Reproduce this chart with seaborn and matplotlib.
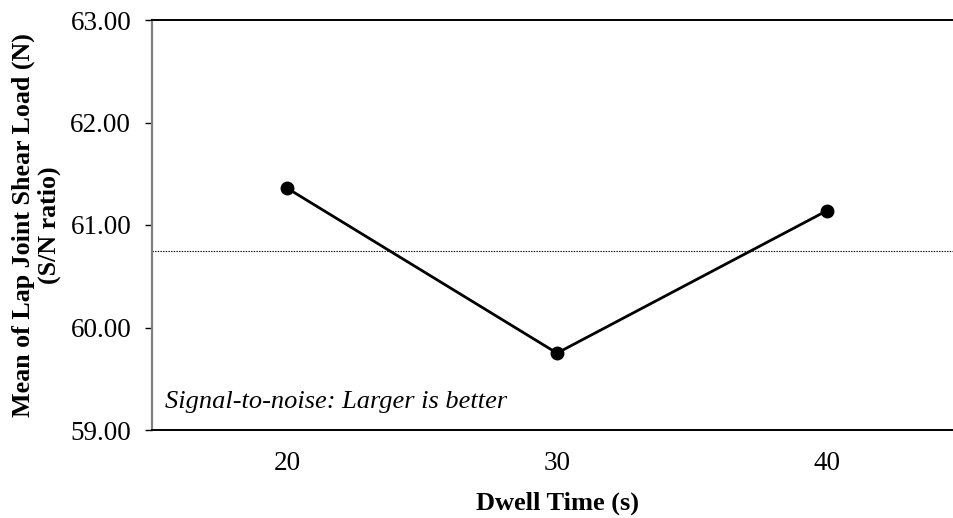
import matplotlib
matplotlib.use("Agg")
import matplotlib.pyplot as plt
import seaborn as sns
import pandas as pd
import numpy as np

# Dwell time levels and mean S/N ratio of lap joint shear load
dwell_time = ["20", "30", "40"]
sn_ratio = [61.36, 59.75, 61.14]
y_ticks = [59.0, 60.0, 61.0, 62.0, 63.0]

df = pd.DataFrame({"Dwell Time (s)": dwell_time, "SN": sn_ratio})
overall_mean = float(np.mean(sn_ratio))

sns.set_theme(style="white")
plt.rcParams["font.family"] = ["Liberation Serif", "DejaVu Serif"]
plt.rcParams["text.color"] = "black"
plt.rcParams["axes.labelcolor"] = "black"
plt.rcParams["xtick.color"] = "black"
plt.rcParams["ytick.color"] = "black"

fig = plt.figure(figsize=(9.54, 5.18), dpi=100)
ax = fig.add_axes([152 / 954, 1 - 430 / 518, 810 / 954, 410 / 518])

sns.pointplot(
    data=df, x="Dwell Time (s)", y="SN", color="black",
    marker="o", markersize=8.5, linewidth=2.0, errorbar=None, ax=ax,
)

# overall mean reference line
ax.axhline(overall_mean, color="black", linestyle=(0, (1.2, 1.2)), linewidth=0.8, zorder=1)

ax.set_xlim(-0.5, 2.5)
ax.set_ylim(59, 63)
ax.set_yticks(y_ticks)
ax.set_yticklabels([f"{v:.2f}" for v in y_ticks])

for side in ["top", "bottom"]:
    ax.spines[side].set_visible(True)
    ax.spines[side].set_color("black")
    ax.spines[side].set_linewidth(1.4)
ax.spines["left"].set_color("#808080")
ax.spines["left"].set_linewidth(1.6)
ax.spines["right"].set_visible(False)

ax.tick_params(axis="y", which="both", direction="out", length=5, width=1.0,
               color="black", labelsize=19.5, pad=10, left=True)
ax.tick_params(axis="x", length=0, labelsize=19.5, pad=15)

ax.set_xlabel("Dwell Time (s)", fontsize=19, fontweight="bold", labelpad=11)
ax.set_ylabel("Mean of Lap Joint Shear Load (N)\n(S/N ratio)", fontsize=18.7,
              fontweight="bold", linespacing=1.15, multialignment="center")
ax.yaxis.set_label_coords(-0.1125, 0.5)

ax.text(13 / 810, 0.068, "Signal-to-noise: Larger is better", transform=ax.transAxes,
        fontsize=19, fontstyle="italic", ha="left", va="center")

fig.savefig("out.png", dpi=100)
